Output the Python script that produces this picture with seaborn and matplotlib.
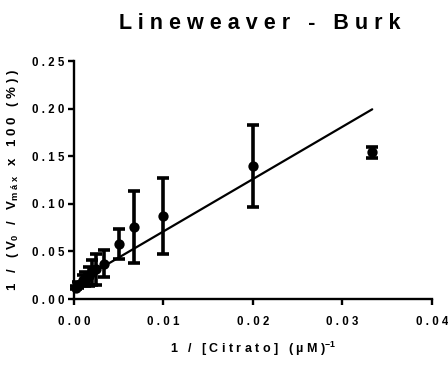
import numpy as np
import pandas as pd
import matplotlib
matplotlib.use("Agg")
import matplotlib.pyplot as plt
from matplotlib.ticker import FixedLocator, FuncFormatter
import seaborn as sns

# Citrate concentrations (µM) and mean 1/(V0/Vmax x 100) with SD
citrate_uM = [4000, 2000, 1000, 800, 600, 500, 400, 300, 200, 150, 100, 50, 30]
inv_rate = [0.012, 0.015, 0.020, 0.021, 0.024, 0.028, 0.031, 0.037, 0.058, 0.076, 0.087, 0.140, 0.154]
inv_rate_sd = [0.002, 0.003, 0.005, 0.007, 0.010, 0.013, 0.016, 0.014, 0.016, 0.038, 0.040, 0.043, 0.006]

# Linear fit of the double-reciprocal plot
fit_slope = 5.5
fit_intercept = 0.016

x_ticks = [0.00, 0.01, 0.02, 0.03, 0.04]
y_ticks = [0.00, 0.05, 0.10, 0.15, 0.20, 0.25]

sns.set_theme(style="ticks")
plt.rcParams["font.family"] = ["Liberation Sans", "DejaVu Sans"]
plt.rcParams["font.weight"] = "bold"
plt.rcParams["mathtext.fontset"] = "custom"
plt.rcParams["mathtext.rm"] = "Liberation Sans:bold"
plt.rcParams["mathtext.it"] = "Liberation Sans:bold"
plt.rcParams["mathtext.bf"] = "Liberation Sans:bold"
plt.rcParams["mathtext.default"] = "rm"


def spaced(s):
    """Spread the characters of a label apart."""
    return " ".join(s)


df = pd.DataFrame({
    "x": 1.0 / np.asarray(citrate_uM, dtype=float),
    "y": inv_rate,
    "sd": inv_rate_sd,
})

fig = plt.figure(figsize=(4.48, 3.68), dpi=100)
ax = fig.add_axes([0.165, 0.1875, 0.799, 0.6465])

# regression line over the range of the data
xf = np.array([df["x"].min(), df["x"].max()])
fit_df = pd.DataFrame({"x": xf, "y": fit_intercept + fit_slope * xf})
sns.lineplot(data=fit_df, x="x", y="y", color="black", linewidth=1.6, ax=ax, zorder=2)

ax.errorbar(df["x"], df["y"], yerr=df["sd"], fmt="none", ecolor="black",
            elinewidth=2.6, capsize=4.5, capthick=2.6, zorder=3, clip_on=False)
sns.scatterplot(data=df, x="x", y="y", color="black", s=55, edgecolor="black",
                linewidth=0, ax=ax, zorder=4, clip_on=False)

ax.set_xlim(0, 0.04)
ax.set_ylim(0, 0.25)
ax.xaxis.set_major_locator(FixedLocator(x_ticks))
ax.yaxis.set_major_locator(FixedLocator(y_ticks))
ax.xaxis.set_major_formatter(FuncFormatter(lambda v, p: spaced(f"{v:.2f}")))
ax.yaxis.set_major_formatter(FuncFormatter(lambda v, p: spaced(f"{v:.2f}")))

sns.despine(ax=ax)
for side in ("left", "bottom"):
    ax.spines[side].set_linewidth(1.7)
    ax.spines[side].set_color("black")
ax.tick_params(axis="both", direction="out", length=4, width=1.7, color="black",
               labelsize=8.3, labelcolor="black")
ax.tick_params(axis="x", pad=8)
ax.tick_params(axis="y", pad=3)
for lab in ax.get_xticklabels() + ax.get_yticklabels():
    lab.set_fontweight("bold")

ax.set_xlabel("1   /   [ C i t r a t o ]   ( µ M )$^{-1}$", fontsize=9, fontweight="bold",
              labelpad=9, color="black")
ax.set_ylabel("1   /   ( V$_{0}$   /   V$_{m\\,\\,á\\,\\,x}$   x   1 0 0   ( % ) )", fontsize=9.5,
              fontweight="bold", labelpad=8, color="black")

fig.text(0.58, 0.937, spaced("Lineweaver - Burk"), ha="center", va="center",
         fontsize=15.5, fontweight="bold", color="black")

fig.savefig("out.png", dpi=100, facecolor="white")
